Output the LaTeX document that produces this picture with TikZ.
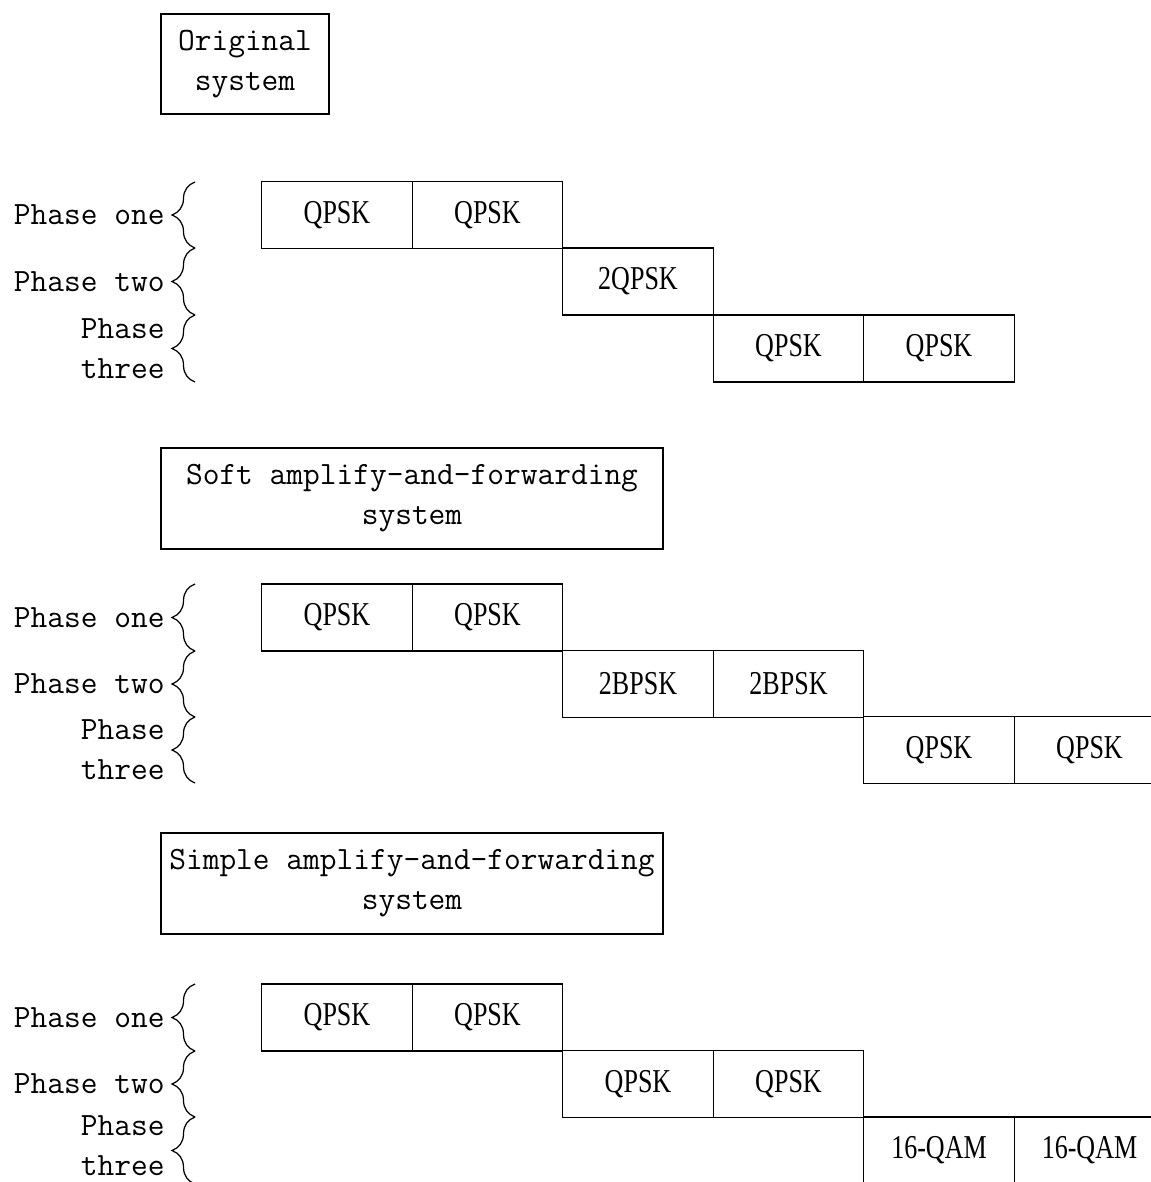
\documentclass[tikz,border=0pt]{standalone}
\usepackage{fontspec}
\usetikzlibrary{decorations.pathreplacing}
\newfontfamily\cellfont[FakeStretch=0.78]{Liberation Serif}
\tikzset{
  cell/.style={draw, line width=0.8pt, minimum width=3.01cm, minimum height=1.333cm, inner sep=0pt,
    font=\cellfont\fontsize{19}{21}\selectfont},
  titlebox/.style={draw, line width=0.8pt, inner sep=0pt, align=center,
    font=\ttfamily\fontsize{18.5}{22.8}\selectfont},
  phase/.style={anchor=east, inner sep=0pt, align=right,
    font=\ttfamily\fontsize{18.5}{22.8}\selectfont},
  pbrace/.style={decorate, decoration={brace, amplitude=0.46cm}, line width=0.7pt}
}
\begin{document}
\begin{tikzpicture}[x=0.02cm, y=-0.02cm]
\useasboundingbox (0,0) rectangle (1151,1182);
\clip (0,0) rectangle (1151,1182);

% ---------- Section 1: Original system ----------
\node[titlebox, minimum width=3.36cm, minimum height=2cm] (t1) at (245,64) {Original\\system};
\node[phase] (a1) at (165,215) {Phase one};
\node[phase] (a2) at (165,281.5) {Phase two};
\node[phase] (a3) at (165,348.5) {Phase\\three};
\draw[pbrace] (195,248) -- (195,182);
\draw[pbrace] (195,315) -- (195,248);
\draw[pbrace] (195,382) -- (195,315);
\node[cell] (a11) at (337,215) {QPSK};
\node[cell] (a12) at (487.5,215) {QPSK};
\node[cell] (a21) at (638,281.5) {2QPSK};
\node[cell] (a31) at (788.5,348.5) {QPSK};
\node[cell] (a32) at (939,348.5) {QPSK};

% ---------- Section 2: Soft amplify-and-forwarding ----------
\node[titlebox, minimum width=10.04cm, minimum height=2.02cm] (t2) at (412,498.5) {Soft amplify-and-forwarding\\system};
\node[phase] (b1) at (165,617.5) {Phase one};
\node[phase] (b2) at (165,684) {Phase two};
\node[phase] (b3) at (165,750) {Phase\\three};
\draw[pbrace] (195,651) -- (195,584);
\draw[pbrace] (195,717) -- (195,651);
\draw[pbrace] (195,783) -- (195,717);
\node[cell] (b11) at (337,617.5) {QPSK};
\node[cell] (b12) at (487.5,617.5) {QPSK};
\node[cell] (b21) at (638,684) {2BPSK};
\node[cell] (b22) at (788.5,684) {2BPSK};
\node[cell] (b31) at (939,750) {QPSK};
\node[cell] (b32) at (1089.5,750) {QPSK};

% ---------- Section 3: Simple amplify-and-forwarding ----------
\node[titlebox, minimum width=10.04cm, minimum height=2.02cm] (t3) at (412,883.5) {Simple amplify-and-forwarding\\system};
\node[phase] (c1) at (165,1017.5) {Phase one};
\node[phase] (c2) at (165,1084) {Phase two};
\node[phase] (c3) at (165,1146) {Phase\\three};
\draw[pbrace] (195,1051) -- (195,984);
\draw[pbrace] (195,1117) -- (195,1051);
\draw[pbrace] (195,1184) -- (195,1117);
\node[cell] (c11) at (337,1017.5) {QPSK};
\node[cell] (c12) at (487.5,1017.5) {QPSK};
\node[cell] (c21) at (638,1084) {QPSK};
\node[cell] (c22) at (788.5,1084) {QPSK};
\node[cell] (c31) at (939,1150.5) {16-QAM};
\node[cell] (c32) at (1089.5,1150.5) {16-QAM};
\end{tikzpicture}
\end{document}
